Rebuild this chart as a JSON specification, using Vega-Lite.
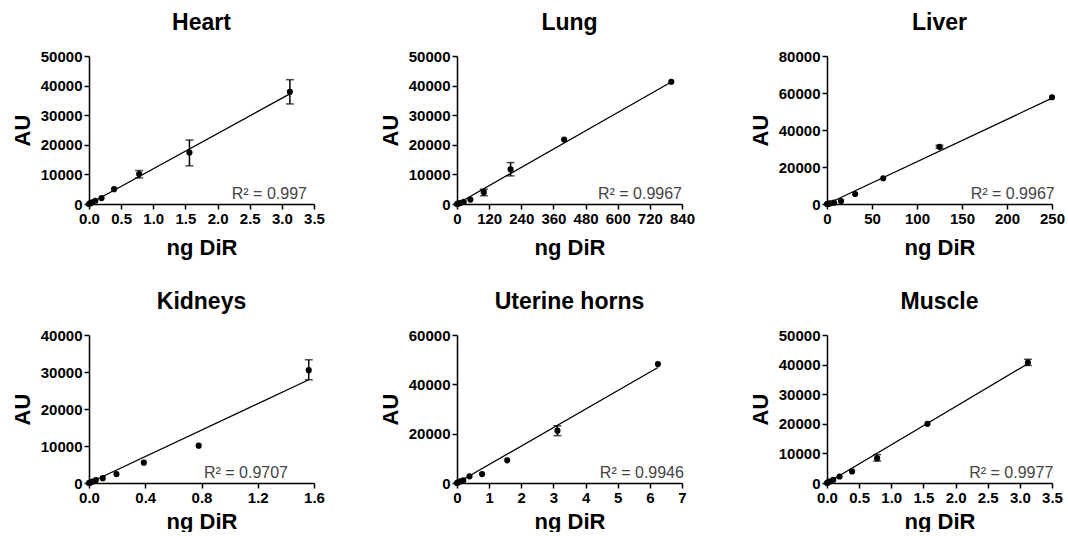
{
  "$schema": "https://vega.github.io/schema/vega-lite/v6.json",
  "padding": {"left": 11, "top": 12, "right": 5, "bottom": 0},
  "background": "white",
  "datasets": {
    "d": [
      {"o": "Heart", "k": "p", "x": 0, "y": 0},
      {"o": "Heart", "k": "p", "x": 0.0122, "y": 150},
      {"o": "Heart", "k": "p", "x": 0.0244, "y": 300},
      {"o": "Heart", "k": "p", "x": 0.0488, "y": 600},
      {"o": "Heart", "k": "p", "x": 0.0977, "y": 1100},
      {"o": "Heart", "k": "p", "x": 0.195, "y": 2000},
      {"o": "Heart", "k": "p", "x": 0.39, "y": 5000},
      {"o": "Heart", "k": "p", "x": 0.78, "y": 10100, "lo": 8800, "hi": 11300},
      {"o": "Heart", "k": "p", "x": 1.5625, "y": 17400, "lo": 12900, "hi": 21600},
      {"o": "Heart", "k": "p", "x": 3.125, "y": 37900, "lo": 33800, "hi": 42000},
      {"o": "Heart", "k": "f", "x": 0, "y": 0},
      {"o": "Heart", "k": "f", "x": 3.125, "y": 37200},

      {"o": "Lung", "k": "p", "x": 0, "y": 0},
      {"o": "Lung", "k": "p", "x": 3.125, "y": 100},
      {"o": "Lung", "k": "p", "x": 6.25, "y": 200},
      {"o": "Lung", "k": "p", "x": 12.5, "y": 350},
      {"o": "Lung", "k": "p", "x": 25, "y": 700},
      {"o": "Lung", "k": "p", "x": 50, "y": 1500},
      {"o": "Lung", "k": "p", "x": 100, "y": 4000, "lo": 2800, "hi": 5000},
      {"o": "Lung", "k": "p", "x": 200, "y": 11700, "lo": 9500, "hi": 14000},
      {"o": "Lung", "k": "p", "x": 400, "y": 21800},
      {"o": "Lung", "k": "p", "x": 800, "y": 41300},
      {"o": "Lung", "k": "f", "x": 0, "y": 0},
      {"o": "Lung", "k": "f", "x": 800, "y": 41200},

      {"o": "Liver", "k": "p", "x": 0, "y": 0},
      {"o": "Liver", "k": "p", "x": 0.98, "y": 100},
      {"o": "Liver", "k": "p", "x": 1.95, "y": 200},
      {"o": "Liver", "k": "p", "x": 3.9, "y": 400},
      {"o": "Liver", "k": "p", "x": 7.8, "y": 700},
      {"o": "Liver", "k": "p", "x": 15.6, "y": 1600},
      {"o": "Liver", "k": "p", "x": 31.25, "y": 5400},
      {"o": "Liver", "k": "p", "x": 62.5, "y": 13900},
      {"o": "Liver", "k": "p", "x": 125, "y": 30900, "lo": 30200, "hi": 31700},
      {"o": "Liver", "k": "p", "x": 250, "y": 57700},
      {"o": "Liver", "k": "f", "x": 0, "y": 0},
      {"o": "Liver", "k": "f", "x": 250, "y": 57200},

      {"o": "Kidneys", "k": "p", "x": 0, "y": 0},
      {"o": "Kidneys", "k": "p", "x": 0.0061, "y": 100},
      {"o": "Kidneys", "k": "p", "x": 0.0122, "y": 200},
      {"o": "Kidneys", "k": "p", "x": 0.0244, "y": 400},
      {"o": "Kidneys", "k": "p", "x": 0.0488, "y": 800},
      {"o": "Kidneys", "k": "p", "x": 0.0977, "y": 1300},
      {"o": "Kidneys", "k": "p", "x": 0.195, "y": 2400},
      {"o": "Kidneys", "k": "p", "x": 0.39, "y": 5500},
      {"o": "Kidneys", "k": "p", "x": 0.78, "y": 10100},
      {"o": "Kidneys", "k": "p", "x": 1.5625, "y": 30500, "lo": 27900, "hi": 33300},
      {"o": "Kidneys", "k": "f", "x": 0, "y": 0},
      {"o": "Kidneys", "k": "f", "x": 1.5625, "y": 27900},

      {"o": "Uterine horns", "k": "p", "x": 0, "y": 0},
      {"o": "Uterine horns", "k": "p", "x": 0.024, "y": 200},
      {"o": "Uterine horns", "k": "p", "x": 0.049, "y": 400},
      {"o": "Uterine horns", "k": "p", "x": 0.098, "y": 700},
      {"o": "Uterine horns", "k": "p", "x": 0.195, "y": 1100},
      {"o": "Uterine horns", "k": "p", "x": 0.39, "y": 2700},
      {"o": "Uterine horns", "k": "p", "x": 0.78, "y": 3600},
      {"o": "Uterine horns", "k": "p", "x": 1.5625, "y": 9200},
      {"o": "Uterine horns", "k": "p", "x": 3.125, "y": 21200, "lo": 19200, "hi": 23200},
      {"o": "Uterine horns", "k": "p", "x": 6.25, "y": 48200},
      {"o": "Uterine horns", "k": "f", "x": 0, "y": 0},
      {"o": "Uterine horns", "k": "f", "x": 6.25, "y": 46800},

      {"o": "Muscle", "k": "p", "x": 0, "y": 0},
      {"o": "Muscle", "k": "p", "x": 0.0122, "y": 150},
      {"o": "Muscle", "k": "p", "x": 0.0244, "y": 300},
      {"o": "Muscle", "k": "p", "x": 0.0488, "y": 600},
      {"o": "Muscle", "k": "p", "x": 0.0977, "y": 1100},
      {"o": "Muscle", "k": "p", "x": 0.195, "y": 2200},
      {"o": "Muscle", "k": "p", "x": 0.39, "y": 3900},
      {"o": "Muscle", "k": "p", "x": 0.78, "y": 8400, "lo": 7400, "hi": 9600},
      {"o": "Muscle", "k": "p", "x": 1.5625, "y": 20000},
      {"o": "Muscle", "k": "p", "x": 3.125, "y": 40700, "lo": 39700, "hi": 41800},
      {"o": "Muscle", "k": "f", "x": 0, "y": 0},
      {"o": "Muscle", "k": "f", "x": 3.125, "y": 40300}
    ]
  },
  "data": {"name": "d"},
  "columns": 3,
  "spacing": {"row": 33, "column": 54},
  "concat": [
    {
      "title": "Heart", "width": 225, "height": 148,
      "transform": [{"filter": "datum.o === 'Heart'"}],
      "encoding": {
        "x": {"field": "x", "type": "quantitative", "title": "ng DiR", "scale": {"domain": [0, 3.5], "nice": false}, "axis": {"values": [0, 0.5, 1, 1.5, 2, 2.5, 3, 3.5], "format": ".1f"}},
        "y": {"field": "y", "type": "quantitative", "title": "AU", "scale": {"domain": [0, 50000], "nice": false}, "axis": {"values": [0, 10000, 20000, 30000, 40000, 50000], "format": "d"}}
      },
      "layer": [
        {"transform": [{"filter": "datum.k === 'f'"}], "mark": {"type": "line", "color": "black", "strokeWidth": 1.3}},
        {"transform": [{"filter": "datum.hi != null"}], "mark": {"type": "rule", "color": "black", "strokeWidth": 1.5}, "encoding": {"y": {"field": "lo", "type": "quantitative", "title": "AU", "scale": {"domain": [0, 50000], "nice": false}}, "y2": {"field": "hi"}}},
        {"transform": [{"filter": "datum.hi != null"}], "mark": {"type": "tick", "orient": "horizontal", "color": "black", "size": 8, "thickness": 1.5}, "encoding": {"y": {"field": "lo", "type": "quantitative", "title": "AU", "scale": {"domain": [0, 50000], "nice": false}}}},
        {"transform": [{"filter": "datum.hi != null"}], "mark": {"type": "tick", "orient": "horizontal", "color": "black", "size": 8, "thickness": 1.5}, "encoding": {"y": {"field": "hi", "type": "quantitative", "title": "AU", "scale": {"domain": [0, 50000], "nice": false}}}},
        {"transform": [{"filter": "datum.k === 'p'"}], "mark": {"type": "circle", "color": "black", "size": 38, "opacity": 1}},
        {"transform": [{"filter": "datum.k === 'f' && datum.x === 0"}], "mark": {"type": "text", "font": "Liberation Sans", "fontSize": 16, "color": "#444444", "align": "right", "baseline": "alphabetic", "dy": -5}, "encoding": {"x": {"datum": 3.39}, "y": {"datum": 0}, "text": {"value": "R² = 0.997"}}}
      ]
    },
    {
      "title": "Lung", "width": 225, "height": 148,
      "transform": [{"filter": "datum.o === 'Lung'"}],
      "encoding": {
        "x": {"field": "x", "type": "quantitative", "title": "ng DiR", "scale": {"domain": [0, 840], "nice": false}, "axis": {"values": [0, 120, 240, 360, 480, 600, 720, 840], "format": "d"}},
        "y": {"field": "y", "type": "quantitative", "title": "AU", "scale": {"domain": [0, 50000], "nice": false}, "axis": {"values": [0, 10000, 20000, 30000, 40000, 50000], "format": "d"}}
      },
      "layer": [
        {"transform": [{"filter": "datum.k === 'f'"}], "mark": {"type": "line", "color": "black", "strokeWidth": 1.3}},
        {"transform": [{"filter": "datum.hi != null"}], "mark": {"type": "rule", "color": "black", "strokeWidth": 1.5}, "encoding": {"y": {"field": "lo", "type": "quantitative", "title": "AU", "scale": {"domain": [0, 50000], "nice": false}}, "y2": {"field": "hi"}}},
        {"transform": [{"filter": "datum.hi != null"}], "mark": {"type": "tick", "orient": "horizontal", "color": "black", "size": 8, "thickness": 1.5}, "encoding": {"y": {"field": "lo", "type": "quantitative", "title": "AU", "scale": {"domain": [0, 50000], "nice": false}}}},
        {"transform": [{"filter": "datum.hi != null"}], "mark": {"type": "tick", "orient": "horizontal", "color": "black", "size": 8, "thickness": 1.5}, "encoding": {"y": {"field": "hi", "type": "quantitative", "title": "AU", "scale": {"domain": [0, 50000], "nice": false}}}},
        {"transform": [{"filter": "datum.k === 'p'"}], "mark": {"type": "circle", "color": "black", "size": 38, "opacity": 1}},
        {"transform": [{"filter": "datum.k === 'f' && datum.x === 0"}], "mark": {"type": "text", "font": "Liberation Sans", "fontSize": 16, "color": "#444444", "align": "right", "baseline": "alphabetic", "dy": -5}, "encoding": {"x": {"datum": 840}, "y": {"datum": 0}, "text": {"value": "R² = 0.9967"}}}
      ]
    },
    {
      "title": "Liver", "width": 225, "height": 148,
      "transform": [{"filter": "datum.o === 'Liver'"}],
      "encoding": {
        "x": {"field": "x", "type": "quantitative", "title": "ng DiR", "scale": {"domain": [0, 250], "nice": false}, "axis": {"values": [0, 50, 100, 150, 200, 250], "format": "d"}},
        "y": {"field": "y", "type": "quantitative", "title": "AU", "scale": {"domain": [0, 80000], "nice": false}, "axis": {"values": [0, 20000, 40000, 60000, 80000], "format": "d"}}
      },
      "layer": [
        {"transform": [{"filter": "datum.k === 'f'"}], "mark": {"type": "line", "color": "black", "strokeWidth": 1.3}},
        {"transform": [{"filter": "datum.hi != null"}], "mark": {"type": "rule", "color": "black", "strokeWidth": 1.5}, "encoding": {"y": {"field": "lo", "type": "quantitative", "title": "AU", "scale": {"domain": [0, 80000], "nice": false}}, "y2": {"field": "hi"}}},
        {"transform": [{"filter": "datum.hi != null"}], "mark": {"type": "tick", "orient": "horizontal", "color": "black", "size": 8, "thickness": 1.5}, "encoding": {"y": {"field": "lo", "type": "quantitative", "title": "AU", "scale": {"domain": [0, 80000], "nice": false}}}},
        {"transform": [{"filter": "datum.hi != null"}], "mark": {"type": "tick", "orient": "horizontal", "color": "black", "size": 8, "thickness": 1.5}, "encoding": {"y": {"field": "hi", "type": "quantitative", "title": "AU", "scale": {"domain": [0, 80000], "nice": false}}}},
        {"transform": [{"filter": "datum.k === 'p'"}], "mark": {"type": "circle", "color": "black", "size": 38, "opacity": 1}},
        {"transform": [{"filter": "datum.k === 'f' && datum.x === 0"}], "mark": {"type": "text", "font": "Liberation Sans", "fontSize": 16, "color": "#444444", "align": "right", "baseline": "alphabetic", "dy": -5}, "encoding": {"x": {"datum": 253}, "y": {"datum": 0}, "text": {"value": "R² = 0.9967"}}}
      ]
    },
    {
      "title": "Kidneys", "width": 225, "height": 148,
      "transform": [{"filter": "datum.o === 'Kidneys'"}],
      "encoding": {
        "x": {"field": "x", "type": "quantitative", "title": "ng DiR", "scale": {"domain": [0, 1.6], "nice": false}, "axis": {"values": [0, 0.4, 0.8, 1.2, 1.6], "format": ".1f", "titlePadding": 6}},
        "y": {"field": "y", "type": "quantitative", "title": "AU", "scale": {"domain": [0, 40000], "nice": false}, "axis": {"values": [0, 10000, 20000, 30000, 40000], "format": "d"}}
      },
      "layer": [
        {"transform": [{"filter": "datum.k === 'f'"}], "mark": {"type": "line", "color": "black", "strokeWidth": 1.3}},
        {"transform": [{"filter": "datum.hi != null"}], "mark": {"type": "rule", "color": "black", "strokeWidth": 1.5}, "encoding": {"y": {"field": "lo", "type": "quantitative", "title": "AU", "scale": {"domain": [0, 40000], "nice": false}}, "y2": {"field": "hi"}}},
        {"transform": [{"filter": "datum.hi != null"}], "mark": {"type": "tick", "orient": "horizontal", "color": "black", "size": 8, "thickness": 1.5}, "encoding": {"y": {"field": "lo", "type": "quantitative", "title": "AU", "scale": {"domain": [0, 40000], "nice": false}}}},
        {"transform": [{"filter": "datum.hi != null"}], "mark": {"type": "tick", "orient": "horizontal", "color": "black", "size": 8, "thickness": 1.5}, "encoding": {"y": {"field": "hi", "type": "quantitative", "title": "AU", "scale": {"domain": [0, 40000], "nice": false}}}},
        {"transform": [{"filter": "datum.k === 'p'"}], "mark": {"type": "circle", "color": "black", "size": 38, "opacity": 1}},
        {"transform": [{"filter": "datum.k === 'f' && datum.x === 0"}], "mark": {"type": "text", "font": "Liberation Sans", "fontSize": 16, "color": "#444444", "align": "right", "baseline": "alphabetic", "dy": -5}, "encoding": {"x": {"datum": 1.415}, "y": {"datum": 0}, "text": {"value": "R² = 0.9707"}}}
      ]
    },
    {
      "title": "Uterine horns", "width": 225, "height": 148,
      "transform": [{"filter": "datum.o === 'Uterine horns'"}],
      "encoding": {
        "x": {"field": "x", "type": "quantitative", "title": "ng DiR", "scale": {"domain": [0, 7], "nice": false}, "axis": {"values": [0, 1, 2, 3, 4, 5, 6, 7], "format": "d", "titlePadding": 6}},
        "y": {"field": "y", "type": "quantitative", "title": "AU", "scale": {"domain": [0, 60000], "nice": false}, "axis": {"values": [0, 20000, 40000, 60000], "format": "d"}}
      },
      "layer": [
        {"transform": [{"filter": "datum.k === 'f'"}], "mark": {"type": "line", "color": "black", "strokeWidth": 1.3}},
        {"transform": [{"filter": "datum.hi != null"}], "mark": {"type": "rule", "color": "black", "strokeWidth": 1.5}, "encoding": {"y": {"field": "lo", "type": "quantitative", "title": "AU", "scale": {"domain": [0, 60000], "nice": false}}, "y2": {"field": "hi"}}},
        {"transform": [{"filter": "datum.hi != null"}], "mark": {"type": "tick", "orient": "horizontal", "color": "black", "size": 8, "thickness": 1.5}, "encoding": {"y": {"field": "lo", "type": "quantitative", "title": "AU", "scale": {"domain": [0, 60000], "nice": false}}}},
        {"transform": [{"filter": "datum.hi != null"}], "mark": {"type": "tick", "orient": "horizontal", "color": "black", "size": 8, "thickness": 1.5}, "encoding": {"y": {"field": "hi", "type": "quantitative", "title": "AU", "scale": {"domain": [0, 60000], "nice": false}}}},
        {"transform": [{"filter": "datum.k === 'p'"}], "mark": {"type": "circle", "color": "black", "size": 38, "opacity": 1}},
        {"transform": [{"filter": "datum.k === 'f' && datum.x === 0"}], "mark": {"type": "text", "font": "Liberation Sans", "fontSize": 16, "color": "#444444", "align": "right", "baseline": "alphabetic", "dy": -5}, "encoding": {"x": {"datum": 7.06}, "y": {"datum": 0}, "text": {"value": "R² = 0.9946"}}}
      ]
    },
    {
      "title": "Muscle", "width": 225, "height": 148,
      "transform": [{"filter": "datum.o === 'Muscle'"}],
      "encoding": {
        "x": {"field": "x", "type": "quantitative", "title": "ng DiR", "scale": {"domain": [0, 3.5], "nice": false}, "axis": {"values": [0, 0.5, 1, 1.5, 2, 2.5, 3, 3.5], "format": ".1f", "titlePadding": 6}},
        "y": {"field": "y", "type": "quantitative", "title": "AU", "scale": {"domain": [0, 50000], "nice": false}, "axis": {"values": [0, 10000, 20000, 30000, 40000, 50000], "format": "d"}}
      },
      "layer": [
        {"transform": [{"filter": "datum.k === 'f'"}], "mark": {"type": "line", "color": "black", "strokeWidth": 1.3}},
        {"transform": [{"filter": "datum.hi != null"}], "mark": {"type": "rule", "color": "black", "strokeWidth": 1.5}, "encoding": {"y": {"field": "lo", "type": "quantitative", "title": "AU", "scale": {"domain": [0, 50000], "nice": false}}, "y2": {"field": "hi"}}},
        {"transform": [{"filter": "datum.hi != null"}], "mark": {"type": "tick", "orient": "horizontal", "color": "black", "size": 8, "thickness": 1.5}, "encoding": {"y": {"field": "lo", "type": "quantitative", "title": "AU", "scale": {"domain": [0, 50000], "nice": false}}}},
        {"transform": [{"filter": "datum.hi != null"}], "mark": {"type": "tick", "orient": "horizontal", "color": "black", "size": 8, "thickness": 1.5}, "encoding": {"y": {"field": "hi", "type": "quantitative", "title": "AU", "scale": {"domain": [0, 50000], "nice": false}}}},
        {"transform": [{"filter": "datum.k === 'p'"}], "mark": {"type": "circle", "color": "black", "size": 38, "opacity": 1}},
        {"transform": [{"filter": "datum.k === 'f' && datum.x === 0"}], "mark": {"type": "text", "font": "Liberation Sans", "fontSize": 16, "color": "#444444", "align": "right", "baseline": "alphabetic", "dy": -5}, "encoding": {"x": {"datum": 3.52}, "y": {"datum": 0}, "text": {"value": "R² = 0.9977"}}}
      ]
    }
  ],
  "config": {
    "font": "Liberation Sans",
    "view": {"stroke": null},
    "axis": {
      "grid": false, "domainColor": "black", "domainWidth": 1.5, "tickColor": "black", "tickWidth": 1.5, "tickSize": 5,
      "labelFont": "Liberation Sans", "labelFontSize": 15, "labelFontWeight": "bold", "labelColor": "black", "labelPadding": 2,
      "titleFont": "Liberation Sans", "titleFontSize": 22, "titleFontWeight": "bold", "titleColor": "black"
    },
    "axisX": {"titlePadding": 11, "labelOverlap": false, "labelFlush": false},
    "axisY": {"titlePadding": 6},
    "title": {"font": "Liberation Sans", "fontSize": 23, "fontWeight": "bold", "color": "black", "anchor": "middle", "frame": "group", "offset": 14}
  }
}
